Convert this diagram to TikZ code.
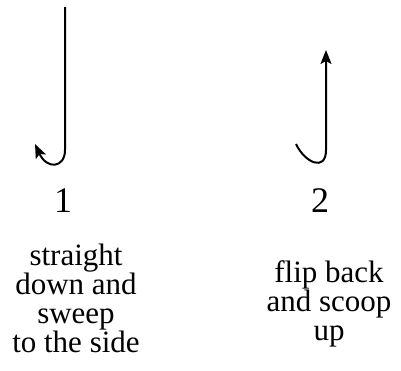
\documentclass[tikz,border=0pt]{standalone}
\usepackage{fontspec}
\setmainfont{Liberation Serif}
\usetikzlibrary{arrows.meta}
\begin{document}
\begin{tikzpicture}[x=1pt,y=-1pt,
  stroke/.style={line width=2pt,line cap=butt,-{Stealth[length=14pt,width=11pt,inset=3pt]}},
  numlabel/.style={font=\fontsize{36}{36}\selectfont,anchor=base,inner sep=0pt},
  desc/.style={font=\fontsize{31}{29}\selectfont,align=center,anchor=base,inner sep=0pt}]
\useasboundingbox (0,0) rectangle (401,370);
% stroke 1
\coordinate (s1top) at (65,7);
\coordinate (s1bot) at (65,150);
\coordinate (s1tip) at (35,144);
\draw[stroke] (s1top) -- (s1bot) .. controls (65,168) and (47,170) .. (s1tip);
% stroke 2
\coordinate (s2start) at (296,144);
\coordinate (s2bot) at (326,150);
\coordinate (s2tip) at (326,50);
\draw[stroke] (s2start) .. controls (305,163) and (326,172) .. (s2bot) -- (s2tip);
% labels
\node[numlabel] (n1) at (63,212) {1};
\node[numlabel] (n2) at (320,212) {2};
\node[desc] (d1) at (76,352) {straight\\down and\\sweep\\to the side};
\node[desc] (d2) at (329,340) {flip back\\and scoop\\up};
\end{tikzpicture}
\end{document}
